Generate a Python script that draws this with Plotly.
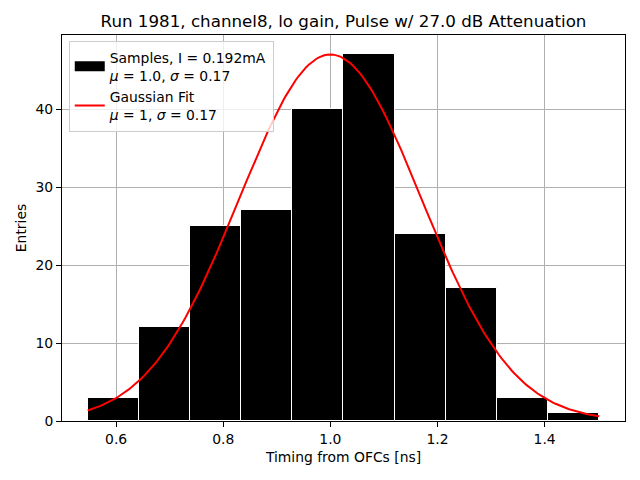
import numpy as np
import plotly.graph_objects as go

# histogram of timing from OFCs
bin_edges = [0.547, 0.642, 0.738, 0.833, 0.929, 1.024, 1.120, 1.215, 1.311, 1.407, 1.502]
counts = [3, 12, 25, 27, 40, 47, 24, 17, 3, 1]

# gaussian fit parameters
fit_amp = 47.0
fit_mu = 1.0
fit_sigma = 0.17

title = "Run 1981, channel8, lo gain, Pulse w/ 27.0 dB Attenuation"
x_label = "Timing from OFCs [ns]"
y_label = "Entries"
samples_label = "Samples, I = 0.192mA<br><i>μ</i> = 1.0, <i>σ</i> = 0.17"
fit_label = "Gaussian Fit<br><i>μ</i> = 1, <i>σ</i> = 0.17"

edges = np.array(bin_edges)
centers = (edges[:-1] + edges[1:]) / 2
widths = np.diff(edges)

x_fit = np.linspace(edges[0], edges[-1], 200)
y_fit = fit_amp * np.exp(-0.5 * ((x_fit - fit_mu) / fit_sigma) ** 2)

font = "DejaVu Sans"
# page is drawn with an 8px body margin, so size the figure to fit
W, H = 632, 472

fig = go.Figure()
fig.add_trace(
    go.Bar(
        x=centers,
        y=counts,
        width=widths,
        marker=dict(color="black", line=dict(color="white", width=1)),
        showlegend=False,
    )
)
# legend proxy: wide black patch like matplotlib's
fig.add_trace(
    go.Scatter(
        x=[None],
        y=[None],
        mode="lines",
        line=dict(color="black", width=10),
        name=samples_label,
    )
)
fig.add_trace(
    go.Scatter(
        x=x_fit,
        y=y_fit,
        mode="lines",
        line=dict(color="red", width=2),
        name=fit_label,
    )
)

axis = dict(
    showline=True,
    linecolor="black",
    linewidth=1,
    mirror=True,
    ticks="outside",
    ticklen=5,
    tickcolor="black",
    showgrid=True,
    gridcolor="#b0b0b0",
    gridwidth=1,
    zeroline=False,
    layer="above traces",
    tickfont=dict(size=13.9, color="black"),
    title_font=dict(size=13.9, color="black"),
)

fig.update_layout(
    width=W,
    height=H,
    margin=dict(l=54, r=15, t=27, b=59),
    plot_bgcolor="white",
    paper_bgcolor="white",
    font=dict(family=font, color="black"),
    title=dict(
        text=title,
        x=0.5,
        xref="paper",
        xanchor="center",
        y=1 - 13 / H,
        yref="container",
        yanchor="middle",
        font=dict(size=16.7),
    ),
    xaxis=dict(
        axis,
        range=[0.499, 1.550],
        tickvals=[0.6, 0.8, 1.0, 1.2, 1.4],
        ticktext=["0.6", "0.8", "1.0", "1.2", "1.4"],
        title=dict(text=x_label, standoff=6),
    ),
    yaxis=dict(
        axis,
        range=[0, 49.5],
        tickvals=[0, 10, 20, 30, 40],
        title=dict(text=y_label, standoff=5),
    ),
    showlegend=True,
    legend=dict(
        x=0.012,
        y=0.985,
        xanchor="left",
        yanchor="top",
        bgcolor="rgba(255,255,255,0.8)",
        bordercolor="#cccccc",
        borderwidth=1,
        font=dict(size=13.9),
    ),
    bargap=0,
)

fig.write_html("out.html")
